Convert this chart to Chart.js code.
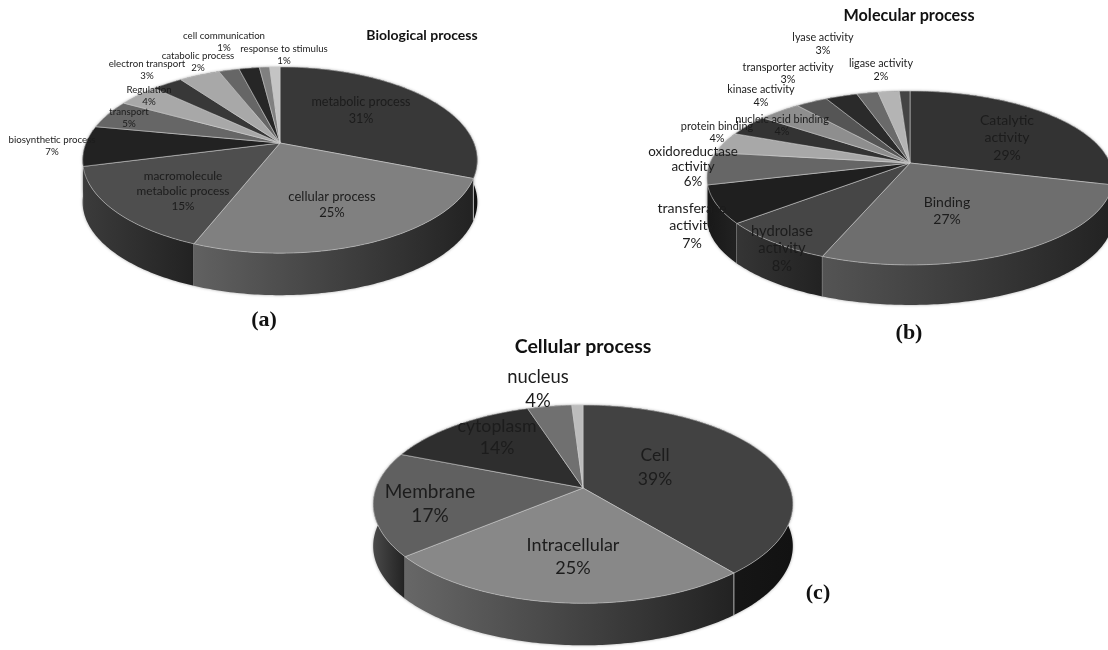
<!DOCTYPE html>
<html>
<head>
<meta charset="utf-8">
<title>Gene ontology pies</title>
<script src="https://cdn.jsdelivr.net/npm/chart.js@4"></script>
<style>
  html, body { margin: 0; padding: 0; background: #fff; overflow: hidden; }
  #stage { position: relative; width: 1108px; height: 650px; overflow: hidden; }
  #stage canvas { position: absolute; left: 0; top: 0; filter: blur(0.55px); }
</style>
</head>
<body>
<div id="stage">
  <canvas id="pie-a" width="1108" height="650"></canvas>
  <canvas id="pie-b" width="1108" height="650"></canvas>
  <canvas id="pie-c" width="1108" height="650"></canvas>
</div>
<script>
// --- Data (empty category = slice with no printed label) ---
const bioCategories = [['metabolic process'], ['cellular process'], ['macromolecule', 'metabolic process'],
  ['biosynthetic process'], ['transport'], ['Regulation'], ['electron transport'], [], ['catabolic process'],
  [], ['cell communication'], ['response to stimulus']];
const bioValues = [31, 25, 15, 7, 5, 4, 3, 4, 2, 2, 1, 1];

const molCategories = [['Catalytic', 'activity'], ['Binding'], ['hydrolase', 'activity'], ['transferase', 'activity'],
  ['oxidoreductase', 'activity'], ['protein binding'], ['nucleic acid binding'], ['kinase activity'],
  ['transporter activity'], ['lyase activity'], ['ligase activity'], [], []];
const molValues = [29, 27, 8, 7, 6, 4, 4, 4, 3, 3, 2, 2, 1];

const celCategories = [['Cell'], ['Intracellular'], ['Membrane'], ['cytoplasm'], ['nucleus'], []];
const celValues = [39, 25, 17, 14, 4, 1];

// --- Styles ---
const bioColors = ['#383838', '#808080', '#4e4e4e', '#222222', '#666666', '#a8a8a8', '#383838', '#a8a8a8', '#666666', '#262626', '#808080', '#c4c4c4'];
const molColors = ['#333333', '#6e6e6e', '#464646', '#1f1f1f', '#666666', '#a8a8a8', '#333333', '#8e8e8e', '#555555', '#2a2a2a', '#6a6a6a', '#b4b4b4', '#444444'];
const celColors = ['#424242', '#888888', '#606060', '#2e2e2e', '#707070', '#bcbcbc'];

// label placement: x, y of the first line, font size, line height
const bioLabelPos = [[361, 102, 12.6, 17], [332, 197, 13, 16], [183, 176, 11.8, 15], [52, 140, 9.7, 12], [129, 112, 9.7, 12],
  [149, 90, 9.7, 12], [147, 64, 9.7, 12], null, [198, 56, 9.7, 12], null, [224, 36, 9.7, 12], [284, 49, 9.7, 12]];
const molLabelPos = [[1007, 120, 14, 17.5], [947, 202, 14, 17], [782, 231, 14.7, 17.5], [692, 208, 14.2, 17.5],
  [693, 152, 13.4, 15], [717, 126, 10.9, 12], [782, 119, 10.9, 12], [761, 90, 10.8, 12.5], [788, 68, 10.8, 12], [823, 38, 10.8, 13], [881, 64, 10.8, 13], null, null];
const celLabelPos = [[655, 455, 17.5, 24], [573, 545, 18, 23], [430, 492, 19, 24], [497, 426, 17.7, 22], [538, 377, 18.4, 24], null];

// Draws the pie tilted in perspective, with a side wall, from the arcs Chart.js computed
const tiltedPie = {
  id: 'tiltedPie',
  beforeDatasetsDraw(chart, args, opts) {
    const ctx = chart.ctx;
    const arcs = chart.getDatasetMeta(0).data;
    const cx = arcs[0].x, cy = arcs[0].y, rx = arcs[0].outerRadius;
    const ry = opts.ry, p = opts.persp, depth = opts.depth;

    const rim = (a) => {
      const v = Math.sin(a), s = 1 / (1 - p * v);
      return [cx + rx * Math.cos(a) * s, cy + ry * v * s];
    };
    const sample = (arc) => {
      const pts = [], n = Math.max(2, Math.ceil((arc.endAngle - arc.startAngle) / 0.015));
      for (let i = 0; i <= n; i++) pts.push(rim(arc.startAngle + (arc.endAngle - arc.startAngle) * i / n));
      return pts;
    };
    const gray = (g) => `rgb(${g},${g},${g})`;

    // side wall, back slices first
    const order = arcs.slice().sort((a, b) =>
      Math.sin((a.startAngle + a.endAngle) / 2) - Math.sin((b.startAngle + b.endAngle) / 2));
    ctx.save();
    order.forEach(arc => {
      const pts = sample(arc);
      const xs = pts.map(q => q[0]);
      const lo = Math.min(...xs), hi = Math.max(...xs);
      const grad = ctx.createLinearGradient(lo, 0, hi, 0);
      const base = parseInt(arc.options.backgroundColor.slice(1, 3), 16);
      // slices on the far right sit in shadow
      const inShadow = Math.cos((arc.startAngle + arc.endAngle) / 2) > 0.5;
      grad.addColorStop(0, gray(inShadow ? 30 : Math.round(base * 0.76)));
      grad.addColorStop(1, gray(inShadow ? 18 : 34));
      ctx.beginPath();
      pts.forEach((q, i) => i ? ctx.lineTo(q[0], q[1]) : ctx.moveTo(q[0], q[1]));
      pts.slice().reverse().forEach(q => ctx.lineTo(q[0], q[1] + depth));
      ctx.closePath();
      ctx.fillStyle = grad;
      ctx.shadowColor = 'rgba(0,0,0,0.35)';
      ctx.shadowBlur = 3;
      ctx.fill();
      ctx.shadowBlur = 0;
      // joint on the visible front of the wall
      const a = arc.startAngle;
      if (Math.sin(a) > 0.2) {
        const q = rim(a);
        ctx.beginPath();
        ctx.moveTo(q[0], q[1]);
        ctx.lineTo(q[0], q[1] + depth);
        ctx.strokeStyle = 'rgba(215,215,215,0.8)';
        ctx.lineWidth = 1;
        ctx.stroke();
      }
    });

    // top surface
    arcs.forEach(arc => {
      const pts = sample(arc);
      ctx.beginPath();
      ctx.moveTo(cx, cy);
      pts.forEach(q => ctx.lineTo(q[0], q[1]));
      ctx.closePath();
      ctx.fillStyle = arc.options.backgroundColor;
      ctx.fill();
      ctx.strokeStyle = 'rgba(205,205,205,0.7)';
      ctx.lineWidth = 0.8;
      ctx.stroke();
    });
    ctx.restore();
    return false;
  },
  afterDraw(chart, args, opts) {
    const ctx = chart.ctx;
    const cats = chart.data.labels, vals = chart.data.datasets[0].data;
    ctx.save();
    ctx.textAlign = 'center';
    ctx.textBaseline = 'middle';
    ctx.fillStyle = '#1c1c1c';
    cats.forEach((lines, i) => {
      const pos = opts.labelPos[i];
      if (!pos || !lines.length) return;
      const [x, y, size, lh] = pos;
      ctx.font = `${size}px Lato`;
      lines.concat(vals[i] + '%').forEach((t, j) => ctx.fillText(t, x, y + j * lh));
    });
    ctx.fillStyle = '#111';
    ctx.font = `bold ${opts.titleSize}px Lato`;
    ctx.fillText(opts.title, opts.titlePos[0], opts.titlePos[1]);
    ctx.font = 'bold 22px "Liberation Serif"';
    ctx.fillText(opts.letter, opts.letterPos[0], opts.letterPos[1]);
    ctx.restore();
  }
};

function makePie(id, categories, values, colors, padding, radius, tilt) {
  return new Chart(document.getElementById(id), {
    type: 'pie',
    data: { labels: categories, datasets: [{ data: values, backgroundColor: colors, borderWidth: 0 }] },
    options: {
      responsive: false,
      animation: false,
      events: [],
      radius: radius,
      layout: { padding: padding },
      plugins: { legend: { display: false }, title: { display: false }, tooltip: { enabled: false }, tiltedPie: tilt }
    },
    plugins: [tiltedPie]
  });
}

document.addEventListener('DOMContentLoaded', () => {
  makePie('pie-a', bioCategories, bioValues, bioColors, { right: 548, bottom: 364 }, 194, {
    ry: 90, persp: 0.183, depth: 42, labelPos: bioLabelPos,
    title: 'Biological process', titleSize: 14, titlePos: [422, 35], letter: '(a)', letterPos: [264, 320]
  });
  makePie('pie-b', molCategories, molValues, molColors, { left: 712, bottom: 324 }, 200, {
    ry: 84.4, persp: 0.172, depth: 40, labelPos: molLabelPos,
    title: 'Molecular process', titleSize: 16.2, titlePos: [909, 16], letter: '(b)', letterPos: [909, 333]
  });
  makePie('pie-c', celCategories, celValues, celColors, { left: 58, top: 326 }, 207, {
    ry: 96.5, persp: 0.163, depth: 42, labelPos: celLabelPos,
    title: 'Cellular process', titleSize: 19.5, titlePos: [583, 347], letter: '(c)', letterPos: [818, 593]
  });
});
</script>
</body>
</html>
